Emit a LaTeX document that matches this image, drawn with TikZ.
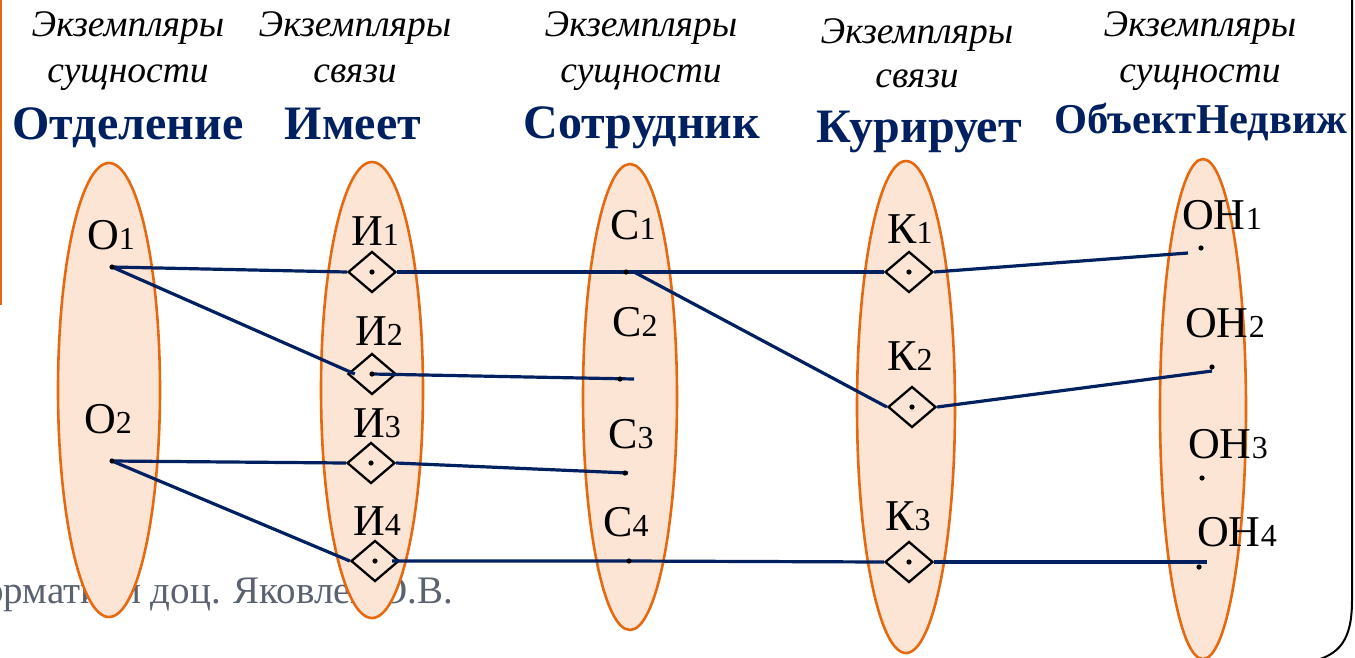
\documentclass[tikz,border=0pt]{standalone}
\usepackage{fontspec}
\setmainfont{Liberation Serif}
\usetikzlibrary{shapes.geometric}
\definecolor{peach}{RGB}{253,229,214}
\definecolor{orng}{RGB}{230,105,15}
\definecolor{navy}{RGB}{0,32,96}
\definecolor{footgray}{RGB}{90,98,112}
\newcommand{\sfx}[1]{{\fontsize{32}{36}\selectfont #1}}
\begin{document}
\begin{tikzpicture}[x=1pt,y=-1pt,
 setell/.style={draw=orng, fill=peach, line width=2.6pt},
 link/.style={draw=navy, line width=3.2pt},
 rel/.style={diamond, draw=black, line width=2.3pt, minimum width=48pt, minimum height=41pt, inner sep=0pt, shape aspect=1.17},
 hdr/.style={anchor=base, inner sep=0pt, font=\fontsize{37.5}{40}\selectfont\itshape},
 ttl/.style={anchor=base, inner sep=0pt, text=navy, font=\fontsize{48}{52}\selectfont\bfseries},
 lbl/.style={anchor=base west, inner sep=0pt, font=\fontsize{44}{48}\selectfont},
]
\useasboundingbox (0,0) rectangle (1355,657);
\clip (0,0) rectangle (1355,657);

% slide decorations
\draw[orng, line width=2.5pt] (1,0) -- (1,305);
\draw[black, line width=2pt] (1352,-2) -- (1352,600) .. controls (1352,640) and (1340,655) .. (1310,662);
\node[anchor=base east, inner sep=0pt, text=footgray, font=\fontsize{39}{42}\selectfont] (foot) at (453,603) {Информатики доц. Яковлев О.В.};

% headers
\node[hdr] (h1a) at (128,36) {Экземпляры};
\node[hdr] (h1b) at (128,82) {сущности};
\node[ttl] (h1c) at (128,139) {Отделение};
\node[hdr] (h2a) at (355,36) {Экземпляры};
\node[hdr] (h2b) at (355,82) {связи};
\node[ttl] (h2c) at (353,139) {Имеет};
\node[hdr] (h3a) at (641,36) {Экземпляры};
\node[hdr] (h3b) at (641,82) {сущности};
\node[ttl] (h3c) at (642,138) {Сотрудник};
\node[hdr] (h4a) at (917,43) {Экземпляры};
\node[hdr] (h4b) at (917,87) {связи};
\node[ttl] (h4c) at (919,142) {Курирует};
\node[hdr] (h5a) at (1200,36) {Экземпляры};
\node[hdr] (h5b) at (1200,82) {сущности};
\node[ttl, font=\fontsize{42.5}{46}\selectfont\bfseries] (h5c) at (1201,133) {ОбъектНедвиж};

% sets
\draw[setell] (109,390) ellipse [x radius=51, y radius=227];
\draw[setell] (372,390) ellipse [x radius=51, y radius=228];
\draw[setell] (630,397) ellipse [x radius=47, y radius=233];
\draw[setell] (906,407) ellipse [x radius=49, y radius=246];
\draw[setell] (1203,409) ellipse [x radius=43, y radius=250];

% element points
\coordinate (o1) at (112,267);
\coordinate (o2) at (112,461);
\coordinate (c1) at (626,272);
\coordinate (c2) at (620,379);
\coordinate (c3) at (625,473);
\coordinate (c4) at (629,561);
\coordinate (oh1) at (1201,248);
\coordinate (oh2) at (1212,367);
\coordinate (oh3) at (1202,478);
\coordinate (oh4) at (1199,567);

% relationship instances
\node[rel] (i1) at (372,272) {};
\node[rel] (i2) at (372,374) {};
\node[rel] (i3) at (371,463) {};
\node[rel] (i4) at (375,561) {};
\node[rel] (k1) at (909,272) {};
\node[rel] (k2) at (912,407) {};
\node[rel] (k3) at (909,562) {};

% labels
\node[lbl] (lo1) at (87,249) {О\sfx{1}};
\node[lbl] (lo2) at (84,433) {О\sfx{2}};
\node[lbl] (li1) at (351,245) {И\sfx{1}};
\node[lbl] (li2) at (355,345) {И\sfx{2}};
\node[lbl] (li3) at (353,437) {И\sfx{3}};
\node[lbl] (li4) at (353,535) {И\sfx{4}};
\node[lbl] (lc1) at (610,239) {С\sfx{1}};
\node[lbl] (lc2) at (612,336) {С\sfx{2}};
\node[lbl] (lc3) at (608,448) {С\sfx{3}};
\node[lbl] (lc4) at (603,536) {С\sfx{4}};
\node[lbl] (lk1) at (887,243) {К\sfx{1}};
\node[lbl] (lk2) at (887,370) {К\sfx{2}};
\node[lbl] (lk3) at (885,530) {К\sfx{3}};
\node[lbl] (loh1) at (1182,229) {ОН\sfx{1}};
\node[lbl] (loh2) at (1185,337) {ОН\sfx{2}};
\node[lbl] (loh3) at (1188,458) {ОН\sfx{3}};
\node[lbl] (loh4) at (1197,546) {ОН\sfx{4}};

% connectors
\draw[link] (o1) -- (i1.west);
\draw[link] (o1) -- ([xshift=8pt]i2.west);
\draw[link] (i1.east) -- ([xshift=6pt]c1);
\draw[link] (i2.center) -- ([xshift=14pt]c2);
\draw[link] (o2) -- (i3.west);
\draw[link] (i3.east) -- ([xshift=3pt]c3);
\draw[link] (o2) -- (i4.west);
\draw[link] ([xshift=-8pt]i4.east) -- (c4) -- (k3.west);
\draw[link] ([xshift=6pt]c1) -- (k1.west);
\draw[link] ([xshift=8pt]c1) -- (k2.west);
\draw[link] (k1.east) -- ([xshift=-13pt,yshift=-5pt]oh1);
\draw[link] (k2.east) -- ([yshift=-4pt]oh2);
\draw[link] (k3.east) -- ([xshift=8pt,yshift=5pt]oh4);

% dots
\foreach \p in {o1,o2,c1,c2,c3,c4,oh1,oh2,oh3,oh4,i1,i2,i3,i4,k1,k2,k3}
  \fill[black] (\p) circle [radius=2.6pt];
\end{tikzpicture}
\end{document}
